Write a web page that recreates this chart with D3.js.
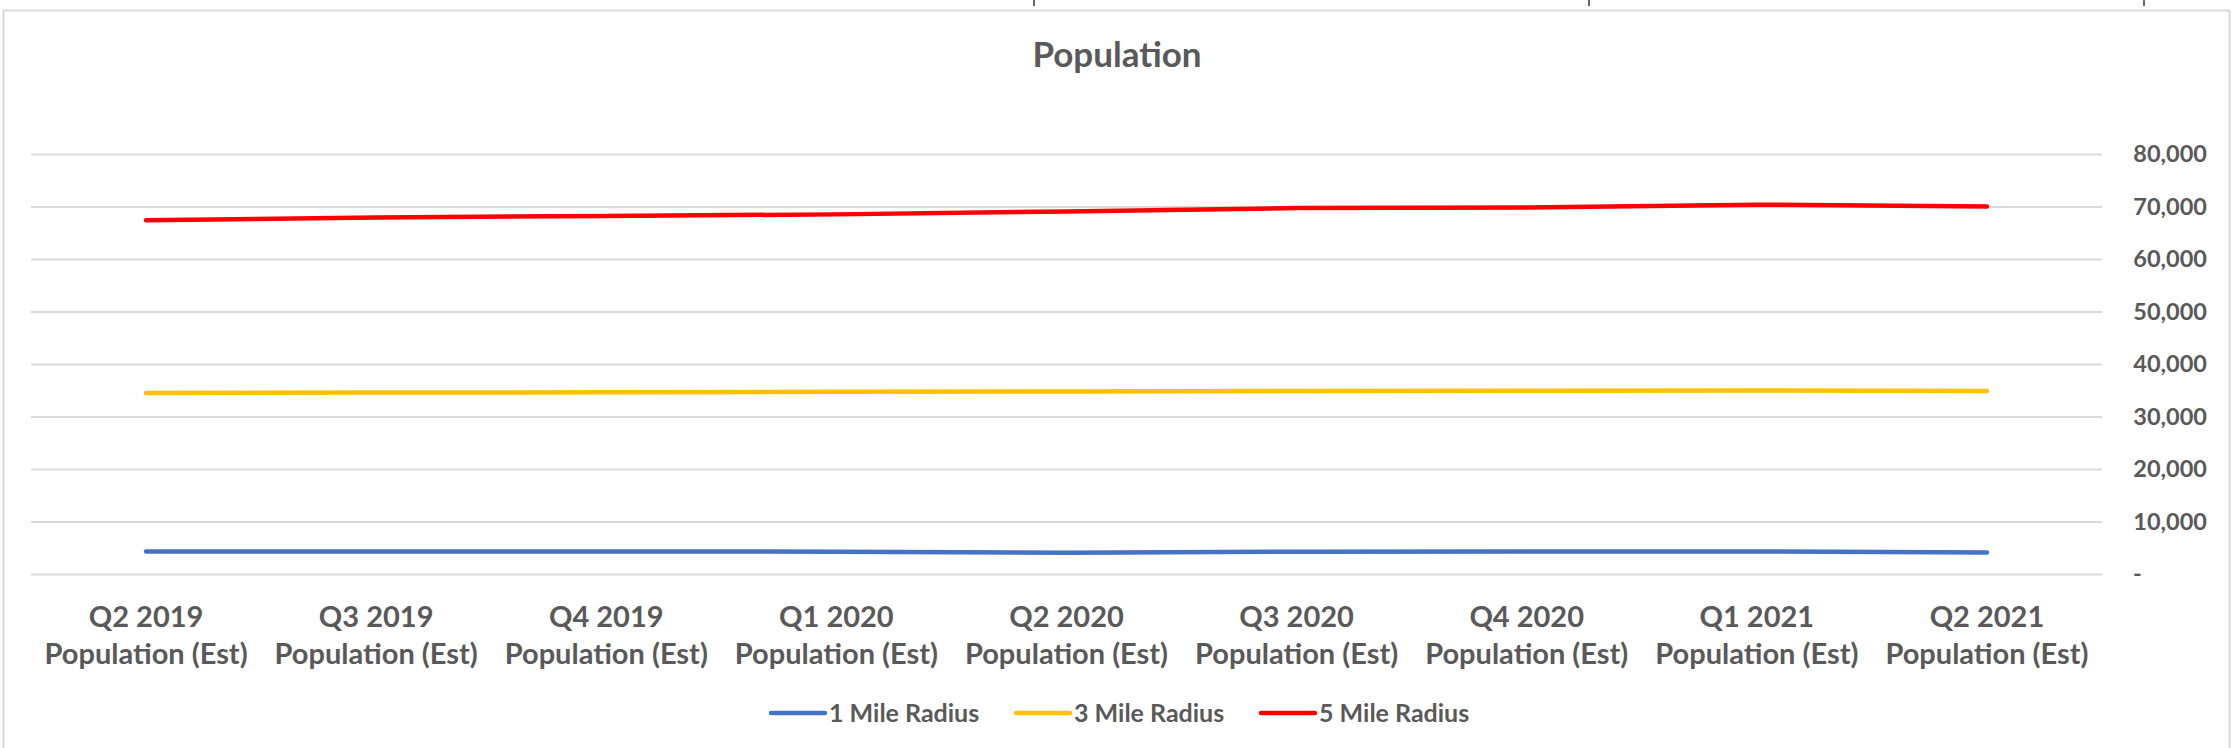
<!DOCTYPE html>
<html>
<head>
<meta charset="utf-8">
<script src="https://cdn.jsdelivr.net/npm/d3@7"></script>
<style>
  body { margin: 0; background: #fff; }
  svg { display: block; font-family: Lato, "Open Sans", sans-serif; }
</style>
</head>
<body>
<script>
var quarters = ['Q2 2019', 'Q3 2019', 'Q4 2019', 'Q1 2020', 'Q2 2020',
                'Q3 2020', 'Q4 2020', 'Q1 2021', 'Q2 2021'];
var mile1 = [4300, 4300, 4300, 4250, 4050, 4250, 4300, 4300, 4100];
var mile3 = [34500, 34550, 34600, 34700, 34750, 34850, 34900, 34950, 34850];
var mile5 = [67400, 67900, 68200, 68500, 69050, 69700, 69800, 70350, 70000];
var yTicks = [0, 10000, 20000, 30000, 40000, 50000, 60000, 70000, 80000];

var series = [
  { name: '1 Mile Radius', color: '#4472c4', values: mile1 },
  { name: '3 Mile Radius', color: '#ffc000', values: mile3 },
  { name: '5 Mile Radius', color: '#ff0000', values: mile5 }
];

var W = 2234, H = 748;
var textColor = '#595959';
var gridColor = '#d9d9d9';
var plot = { left: 31, right: 2102, top: 154, bottom: 574 };

var svg = d3.select('body').append('svg')
    .attr('width', W)
    .attr('height', H);

// chart frame
svg.append('rect')
    .attr('x', 3.5).attr('y', 10.5)
    .attr('width', 2226).attr('height', 760)
    .attr('fill', 'none')
    .attr('stroke', gridColor)
    .attr('stroke-width', 2);

// cut-off bits above the frame
svg.selectAll('line.stub')
    .data([1034, 1589, 2144])
    .enter()
    .append('line')
    .attr('class', 'stub')
    .attr('x1', function(d) { return d; })
    .attr('x2', function(d) { return d; })
    .attr('y1', 0).attr('y2', 6)
    .attr('stroke', '#333')
    .attr('stroke-width', 1.5);

svg.append('text')
    .attr('x', 1117)
    .attr('y', 67)
    .attr('text-anchor', 'middle')
    .attr('fill', textColor)
    .attr('font-size', 35)
    .attr('font-weight', 'bold')
    .text('Population');

var x = d3.scaleBand()
    .domain(quarters)
    .range([plot.left, plot.right]);

var y = d3.scaleLinear()
    .domain([0, 80000])
    .range([plot.bottom, plot.top]);

// gridlines
svg.append('g')
    .attr('transform', 'translate(' + plot.left + ',0)')
    .call(d3.axisLeft(y).tickValues(yTicks).tickSize(-(plot.right - plot.left)).tickFormat(''))
    .call(function(g) {
      g.select('.domain').remove();
      g.selectAll('line').attr('stroke', gridColor).attr('stroke-width', 2);
    });

// y labels
var fmt = d3.format(',');
svg.append('g')
    .attr('transform', 'translate(2207,0)')
    .call(d3.axisRight(y).tickValues(yTicks).tickSize(0).tickPadding(0)
        .tickFormat(function(d) { return d === 0 ? '-' : fmt(d); }))
    .call(function(g) {
      g.select('.domain').remove();
      g.selectAll('text')
          .attr('text-anchor', function(d) { return d === 0 ? 'start' : 'end'; })
          .attr('x', function(d) { return d === 0 ? -74 : 0; })
          .attr('fill', textColor)
          .attr('font-size', 23.5)
          .attr('font-weight', 'bold')
          .attr('font-family', 'Lato, sans-serif');
    });

// x labels
var xl = svg.append('g')
    .attr('transform', 'translate(0,' + plot.bottom + ')')
    .call(d3.axisBottom(x).tickSize(0).tickFormat(''));
xl.select('.domain').remove();
xl.selectAll('.tick').each(function(d) {
  var t = d3.select(this).append('text')
      .attr('text-anchor', 'middle')
      .attr('fill', textColor)
      .attr('font-size', 29)
      .attr('font-weight', 'bold')
      .attr('font-family', 'Lato, sans-serif');
  t.append('tspan').attr('x', 0).attr('y', 53).text(d);
  t.append('tspan').attr('x', 0).attr('y', 90).text('Population (Est)');
});

// series lines
var line = d3.line()
    .x(function(d, i) { return x(quarters[i]) + x.bandwidth() / 2; })
    .y(function(d) { return y(d); });

svg.selectAll('path.series')
    .data(series)
    .enter()
    .append('path')
    .attr('class', 'series')
    .attr('d', function(d) { return line(d.values); })
    .attr('fill', 'none')
    .attr('stroke', function(d) { return d.color; })
    .attr('stroke-width', 4.5)
    .attr('stroke-linecap', 'round')
    .attr('stroke-linejoin', 'round');

// legend
var legendX = [771, 1016, 1261];
var legend = svg.selectAll('g.legend')
    .data(series)
    .enter()
    .append('g')
    .attr('class', 'legend')
    .attr('transform', function(d, i) { return 'translate(' + legendX[i] + ',713)'; });

legend.append('line')
    .attr('x1', 0).attr('x2', 54)
    .attr('stroke', function(d) { return d.color; })
    .attr('stroke-width', 4.5)
    .attr('stroke-linecap', 'round');

legend.append('text')
    .attr('x', 58)
    .attr('y', 9)
    .attr('fill', textColor)
    .attr('font-size', 25)
    .attr('font-weight', 'bold')
    .text(function(d) { return d.name; });
</script>
</body>
</html>
